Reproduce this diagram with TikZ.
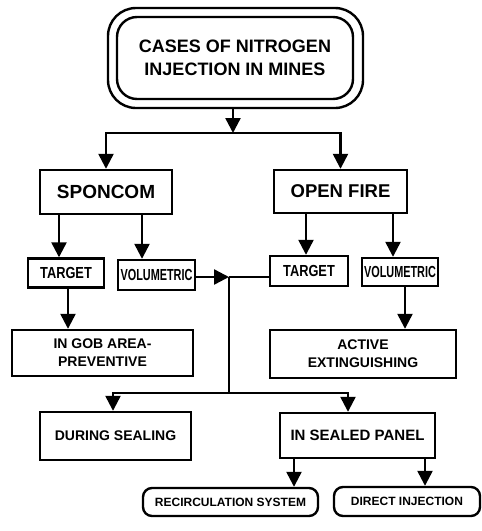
\documentclass[tikz,border=0pt]{standalone}
\usepackage{fontspec}
\setmainfont{Liberation Sans}
\usepackage{graphicx}
\usetikzlibrary{arrows.meta}
\begin{document}
\begin{tikzpicture}[x=1pt,y=-1pt,
  mybox/.style={draw, line width=2.4pt, inner sep=0pt, align=center},
  rbox/.style={mybox, rounded corners=9pt},
  fs/.style={font=\bfseries\fontsize{#1}{#1}\selectfont},
  arr/.style={line width=2.4pt, -{Triangle[width=15pt,length=15pt]}},
  ln/.style={line width=2.4pt}]
\useasboundingbox (0,0) rectangle (482,531);
% top
\node[draw, line width=2.4pt, rounded corners=28pt, minimum width=255pt, minimum height=100pt] (topouter) at (235.5,58) {};
\node[mybox, rounded corners=20pt, minimum width=236pt, minimum height=82pt,
  font=\bfseries\fontsize{18}{23}\selectfont] (top) at (235,58)
  {CASES OF NITROGEN\\INJECTION IN MINES};
% second level
\node[mybox, fs=19, minimum width=132pt, minimum height=44pt] (spon) at (106,192) {SPONCOM};
\node[mybox, fs=18.5, minimum width=133pt, minimum height=43pt] (open) at (340.5,191.5) {OPEN FIRE};
% third level
\node[mybox, fs=16, minimum width=76pt, minimum height=29pt] (tl) at (66,273) {\scalebox{0.8}[1]{TARGET}};
\node[mybox, fs=16, minimum width=77pt, minimum height=30pt] (vl) at (156.5,275) {\scalebox{0.68}[1]{VOLUMETRIC}};
\node[mybox, fs=16, minimum width=78pt, minimum height=30pt] (tr) at (309,271) {\scalebox{0.8}[1]{TARGET}};
\node[mybox, fs=16, minimum width=76pt, minimum height=28pt] (vr) at (400,272) {\scalebox{0.68}[1]{VOLUMETRIC}};
% fourth level
\node[mybox, font=\bfseries\fontsize{14}{18}\selectfont, minimum width=181pt, minimum height=46pt] (gob) at (102.5,353) {IN GOB AREA-\\PREVENTIVE};
\node[mybox, font=\bfseries\fontsize{14}{18}\selectfont, minimum width=186pt, minimum height=48pt] (act) at (363,354) {ACTIVE\\EXTINGUISHING};
% fifth level
\node[mybox, fs=14, minimum width=151pt, minimum height=48pt] (during) at (115.5,436) {DURING SEALING};
\node[mybox, fs=15, minimum width=155pt, minimum height=45pt] (insealed) at (357.5,435.5) {IN SEALED PANEL};
% bottom
\node[rbox, fs=12, minimum width=175pt, minimum height=28pt] (recirc) at (230.5,502) {RECIRCULATION SYSTEM};
\node[rbox, fs=12, minimum width=146pt, minimum height=29pt] (direct) at (407,501.5) {DIRECT INJECTION};
% junctions
\coordinate (j1) at (233,133);
\coordinate (jm) at (229,277);
\coordinate (jb) at (229,393);
% connectors
\draw[arr] (topouter.south -| j1) -- (j1);
\draw[arr] (j1) -| (spon.north);
\draw[arr] (j1) -| (open.north);
\draw[arr] (59,0 |- spon.south) -- (59,0 |- tl.north);
\draw[arr] (142,0 |- spon.south) -- (142,0 |- vl.north);
\draw[arr] (306,0 |- open.south) -- (306,0 |- tr.north);
\draw[arr] (393,0 |- open.south) -- (393,0 |- vr.north);
\draw[arr] (vl.east |- jm) -- (jm);
\draw[ln] (jm) -- (jm -| tr.west);
\draw[ln] (jm) -- (jb);
\draw[arr] (68,0 |- tl.south) -- (68,0 |- gob.north);
\draw[arr] (405,0 |- vr.south) -- (405,0 |- act.north);
\draw[arr] (jb) -| (113,0 |- during.north);
\draw[arr] (jb) -| (348,0 |- insealed.north);
\draw[arr] (294,0 |- insealed.south) -- (294,0 |- recirc.north);
\draw[arr] (425,0 |- insealed.south) -- (425,0 |- direct.north);
\end{tikzpicture}
\end{document}
